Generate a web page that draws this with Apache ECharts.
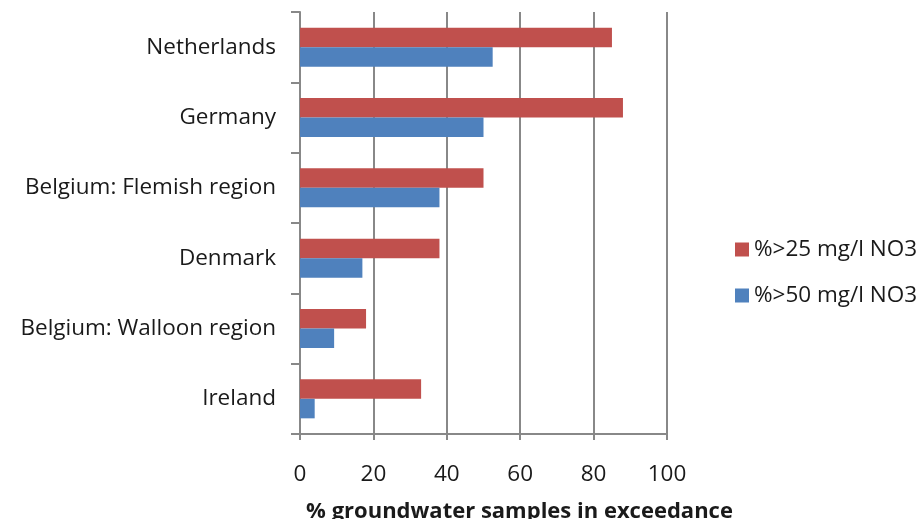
<!DOCTYPE html>
<html>
<head>
<meta charset="utf-8">
<script src="https://cdn.jsdelivr.net/npm/echarts@6/dist/echarts.min.js"></script>
<style>
  html, body { margin: 0; padding: 0; background: #fff; }
  #chart { width: 920px; height: 519px; }
</style>
</head>
<body>
<div id="chart"></div>
<script>
// Countries, listed from top to bottom
const categories = ['Netherlands', 'Germany', 'Belgium: Flemish region', 'Denmark', 'Belgium: Walloon region', 'Ireland'];
// Share of groundwater samples above 25 mg/l nitrate (%)
const over25 = [85, 88, 50, 38, 18, 33];
// Share of groundwater samples above 50 mg/l nitrate (%)
const over50 = [52.5, 50, 38, 17, 9.3, 4];
const xTicks = [0, 20, 40, 60, 80, 100];

const font = 'Open Sans';
const textColor = '#1a1a1a';
const gridColor = '#888888';
const chart = echarts.init(document.getElementById('chart'));
chart.setOption({
  animation: false,
  textStyle: { fontFamily: font },
  grid: {
    left: 300, right: 253, top: 12, bottom: 85,
    containLabel: false,
    outerBoundsMode: 'none'
  },
  legend: {
    orient: 'vertical',
    left: 730,
    top: 233,
    itemWidth: 14,
    itemHeight: 14,
    itemGap: 23,
    icon: 'rect',
    textStyle: { fontFamily: font, fontSize: 22.5, color: textColor },
    data: ['%>25 mg/l NO3', '%>50 mg/l NO3']
  },
  xAxis: {
    type: 'value',
    min: xTicks[0],
    max: xTicks[xTicks.length - 1],
    interval: 20,
    name: '% groundwater samples in exceedance',
    nameLocation: 'middle',
    nameGap: 67,
    nameTextStyle: {
      fontFamily: font, fontSize: 22, fontWeight: 'bold', color: textColor,
      padding: [0, 0, 0, 72]
    },
    axisLine: { show: true, lineStyle: { color: gridColor, width: 2 } },
    axisTick: { show: true, length: 6, lineStyle: { color: gridColor, width: 2 } },
    axisLabel: { fontFamily: font, fontSize: 22.5, color: textColor, margin: 29 },
    splitLine: { show: true, lineStyle: { color: gridColor, width: 2 } }
  },
  yAxis: {
    type: 'category',
    inverse: true,
    data: categories,
    axisLine: { show: true, lineStyle: { color: gridColor, width: 2 } },
    axisTick: { show: true, length: 9, lineStyle: { color: gridColor, width: 2 } },
    axisLabel: {
      fontFamily: font, fontSize: 22.5, color: textColor, margin: 24,
      padding: [4, 0, 0, 0]
    },
    splitLine: { show: false }
  },
  series: [
    {
      name: '%>25 mg/l NO3',
      type: 'bar',
      data: over25,
      barWidth: 19.5,
      barGap: '0%',
      itemStyle: { color: '#C0504D' }
    },
    {
      name: '%>50 mg/l NO3',
      type: 'bar',
      data: over50,
      barWidth: 19.5,
      barGap: '0%',
      itemStyle: { color: '#4F81BD' }
    }
  ]
});
</script>
</body>
</html>
